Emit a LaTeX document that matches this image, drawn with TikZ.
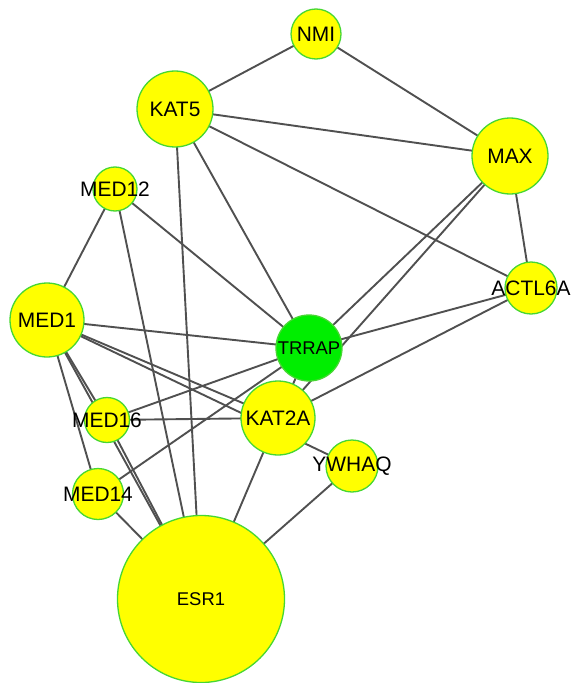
\documentclass[tikz,border=0pt]{standalone}
\usepackage{fontspec}
\setmainfont{Liberation Sans}
\usetikzlibrary{backgrounds}
\definecolor{nodegreen}{RGB}{70,215,50}
\definecolor{edgegray}{RGB}{80,80,80}
\definecolor{hubgreen}{RGB}{0,238,0}
\definecolor{geneyellow}{RGB}{255,255,0}
\begin{document}
\begin{tikzpicture}[x=1bp,y=-1bp,
  gene/.style={circle,draw=nodegreen,line width=1.3bp,fill=geneyellow,inner sep=0pt},
  hub/.style={gene,fill=hubgreen},
  edge/.style={draw=edgegray,line width=1.9bp},
  lbl/.style={font=\fontsize{21}{21}\selectfont,text=black,inner sep=0pt},
  lbls/.style={font=\fontsize{18.5}{18.5}\selectfont,text=black,inner sep=0pt}]
\useasboundingbox (0,0) rectangle (571,683);
\node[gene,minimum size=50bp,label={[lbl]center:NMI}] (NMI) at (316,34) {};
\node[gene,minimum size=76bp,label={[lbl]center:KAT5}] (KAT5) at (175,109) {};
\node[gene,minimum size=76bp,label={[lbl]center:MAX}] (MAX) at (510,156) {};
\node[gene,minimum size=44bp,label={[lbl]center:MED12}] (MED12) at (115,189) {};
\node[gene,minimum size=52bp,label={[lbl]center:ACTL6A}] (ACTL6A) at (531,288) {};
\node[gene,minimum size=74bp,label={[lbl]center:MED1}] (MED1) at (47,320) {};
\node[hub,minimum size=66bp,label={[lbls]center:TRRAP}] (TRRAP) at (309,348) {};
\node[gene,minimum size=74bp,label={[lbl]center:KAT2A}] (KAT2A) at (278,418) {};
\node[gene,minimum size=45bp,label={[lbl]center:MED16}] (MED16) at (107,420) {};
\node[gene,minimum size=52bp,label={[lbl]center:YWHAQ}] (YWHAQ) at (352,466) {};
\node[gene,minimum size=51bp,label={[lbl]center:MED14}] (MED14) at (98,494) {};
\node[gene,minimum size=167bp,label={[lbls]center:ESR1}] (ESR1) at (201,599) {};
\begin{pgfonlayer}{background}
\foreach \a/\b in {NMI/KAT5,NMI/MAX,KAT5/MAX,KAT5/ACTL6A,KAT5/TRRAP,KAT5/ESR1,
  MAX/ACTL6A,MAX/TRRAP,MAX/KAT2A,MED12/MED1,MED12/TRRAP,MED12/ESR1,
  MED1/TRRAP,MED1/KAT2A,MED1/YWHAQ,MED1/MED16,MED1/MED14,MED1/ESR1,MED16/ESR1,
  ACTL6A/TRRAP,ACTL6A/KAT2A,TRRAP/KAT2A,TRRAP/MED16,TRRAP/MED14,
  MED16/KAT2A,KAT2A/ESR1,YWHAQ/ESR1,MED14/ESR1}
  \draw[edge] (\a.center) -- (\b.center);
\end{pgfonlayer}
\end{tikzpicture}
\end{document}
